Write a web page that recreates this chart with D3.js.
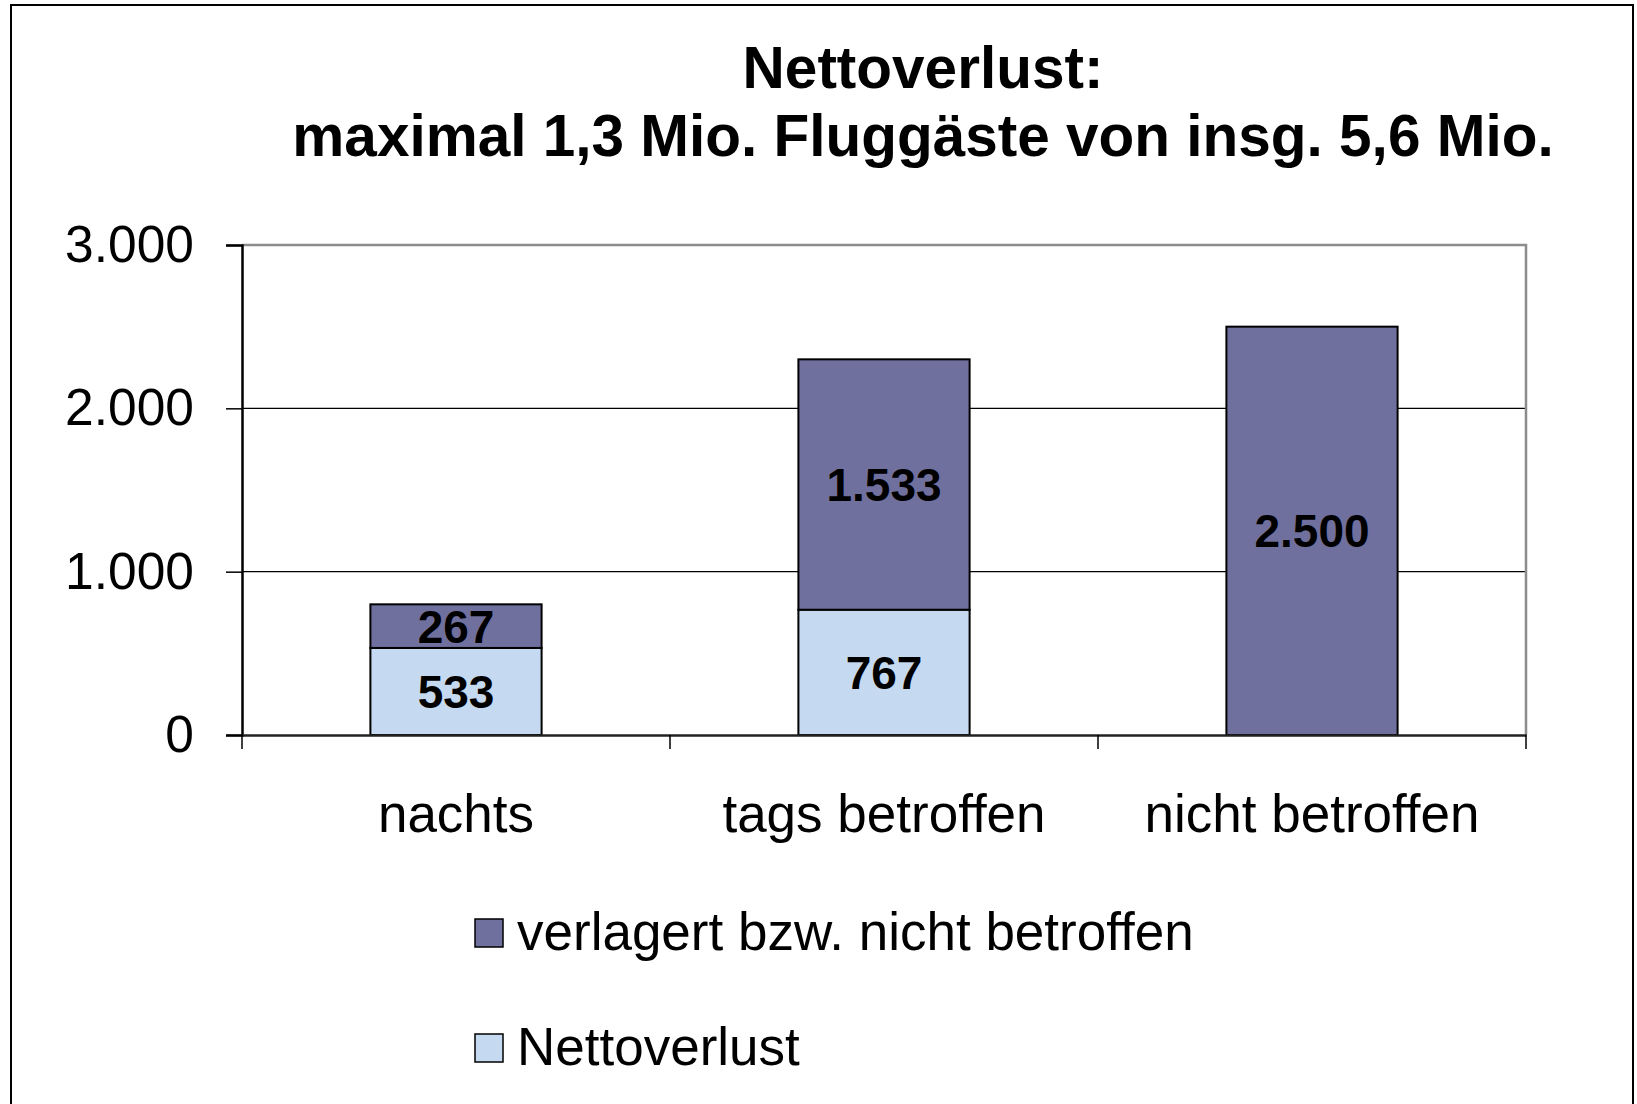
<!DOCTYPE html>
<html>
<head>
<meta charset="utf-8">
<script src="https://cdn.jsdelivr.net/npm/d3@7"></script>
<style>
  body { margin: 0; background: #fff; }
  svg { display: block; font-family: "Liberation Sans", Arial, sans-serif; }
</style>
</head>
<body>
<svg id="chart" width="1637" height="1104"></svg>
<script>
const categories = ['nachts', 'tags betroffen', 'nicht betroffen'];
const nettoverlust = [533, 767, 0];
const verlagert = [267, 1533, 2500];
const yTicks = [0, 1000, 2000, 3000];
const seriesNames = ['verlagert bzw. nicht betroffen', 'Nettoverlust'];
const titleLines = ['Nettoverlust:', 'maximal 1,3 Mio. Fluggäste von insg. 5,6 Mio.'];

const colors = { Nettoverlust: '#c5d9f1', verlagert: '#70709f' };
const margin = { top: 245, right: 111, bottom: 369, left: 242 };
const width = 1637 - margin.left - margin.right;
const height = 1104 - margin.top - margin.bottom;

const de = d3.formatLocale({ decimal: ',', thousands: '.', grouping: [3], currency: ['', ' €'] });
const fmt = de.format(',d');

const svg = d3.select('svg#chart');

// outer frame
svg.append('rect')
  .attr('x', 11).attr('y', 5)
  .attr('width', 1622).attr('height', 1120)
  .attr('fill', 'none').attr('stroke', '#000').attr('stroke-width', 2);

// title
svg.append('g').selectAll('text')
  .data(titleLines)
  .enter()
  .append('text')
  .attr('x', 923)
  .attr('y', (d, i) => 88 + i * 68)
  .attr('text-anchor', 'middle')
  .attr('font-size', 58.5)
  .attr('font-weight', 'bold')
  .text(d => d);

const g = svg.append('g')
  .attr('transform', `translate(${margin.left},${margin.top})`);

const x = d3.scaleBand()
  .domain(categories)
  .range([0, width])
  .paddingInner(0.6)
  .paddingOuter(0.3);

const y = d3.scaleLinear()
  .domain([0, 3000])
  .range([height, 0]);

// grid lines
g.selectAll('.grid')
  .data(yTicks.filter(t => t > 0 && t < 3000))
  .enter()
  .append('line')
  .attr('x1', 0).attr('x2', width)
  .attr('y1', d => y(d)).attr('y2', d => y(d))
  .attr('stroke', '#000').attr('stroke-width', 1.2);

// plot area top/right border (grey)
g.append('path')
  .attr('d', `M0,${y(3000)}H${width}V${height}`)
  .attr('fill', 'none').attr('stroke', '#8c8c8c').attr('stroke-width', 2.5);

// stacked bars
const rows = categories.map((c, i) => ({ cat: c, netto: nettoverlust[i], verl: verlagert[i] }));
const stack = d3.stack().keys(['netto', 'verl'])(rows);
const keyColor = { netto: colors.Nettoverlust, verl: colors.verlagert };

stack.forEach(layer => {
  const lg = g.append('g');
  lg.selectAll('rect')
    .data(layer.filter(d => d[1] > d[0]))
    .enter()
    .append('rect')
    .attr('x', d => x(d.data.cat))
    .attr('y', d => y(d[1]))
    .attr('width', x.bandwidth())
    .attr('height', d => y(d[0]) - y(d[1]))
    .attr('fill', keyColor[layer.key])
    .attr('stroke', '#000')
    .attr('stroke-width', 2);

  lg.selectAll('text')
    .data(layer.filter(d => d[1] > d[0]))
    .enter()
    .append('text')
    .attr('x', d => x(d.data.cat) + x.bandwidth() / 2)
    .attr('y', d => y((d[0] + d[1]) / 2))
    .attr('dy', '0.36em')
    .attr('text-anchor', 'middle')
    .attr('font-size', 46)
    .attr('font-weight', 'bold')
    .text(d => fmt(d[1] - d[0]));
});

// y axis
const yAxis = g.append('g')
  .call(d3.axisLeft(y).tickValues(yTicks).tickSize(16).tickPadding(32).tickFormat(fmt));
yAxis.select('.domain').attr('stroke', '#000').attr('stroke-width', 2.5);
yAxis.selectAll('.tick line').attr('stroke', '#000').attr('stroke-width', 1.5);
yAxis.selectAll('.tick text')
  .attr('font-family', '"Liberation Sans", Arial, sans-serif')
  .attr('font-size', 51.5).attr('fill', '#000');

// x axis
const xAxis = g.append('g')
  .attr('transform', `translate(0,${height})`)
  .call(d3.axisBottom(x).tickSize(0).tickPadding(59));
xAxis.select('.domain').attr('stroke', '#222').attr('stroke-width', 2.5);
xAxis.selectAll('.tick text')
  .attr('font-family', '"Liberation Sans", Arial, sans-serif')
  .attr('font-size', 53).attr('fill', '#000');

// category boundary ticks
g.append('g').selectAll('line')
  .data(d3.range(categories.length + 1))
  .enter()
  .append('line')
  .attr('x1', i => i * x.step()).attr('x2', i => i * x.step())
  .attr('y1', height).attr('y2', height + 14)
  .attr('stroke', '#000').attr('stroke-width', 1.5);

// legend
const legend = svg.append('g')
  .attr('transform', 'translate(475,919)');

const legendItems = legend.selectAll('g')
  .data(seriesNames)
  .enter()
  .append('g')
  .attr('transform', (d, i) => `translate(0,${i * 115})`);

legendItems.append('rect')
  .attr('width', 28).attr('height', 28)
  .attr('fill', (d, i) => i === 0 ? colors.verlagert : colors.Nettoverlust)
  .attr('stroke', '#000').attr('stroke-width', 1.5);

legendItems.append('text')
  .attr('x', 42)
  .attr('y', 31)
  .attr('font-size', 53)
  .text(d => d);
</script>
</body>
</html>
